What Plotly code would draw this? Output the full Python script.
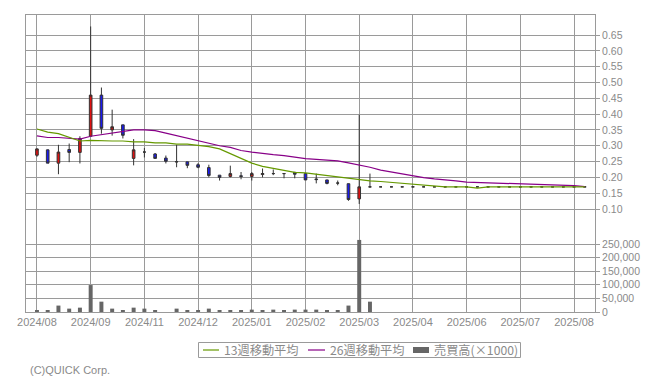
import plotly.graph_objects as go

# ---- data (weekly) ----
weeks = list(range(52))
tick_pos = [0, 5, 10, 15, 20, 25, 30, 35, 40, 45, 50]
tick_labels = ["2024/08", "2024/09", "2024/11", "2024/12", "2025/01", "2025/02",
               "2025/03", "2025/04", "2025/06", "2025/07", "2025/08"]

open_ = [0.270, 0.287, 0.245, 0.288, 0.279, 0.330, 0.460, 0.350, 0.366, 0.260,
         0.280, 0.274, 0.261, 0.250, 0.249, 0.240, 0.231, 0.207, 0.203, 0.205,
         0.203, 0.209, 0.212, 0.212, 0.216, 0.212, 0.195, 0.192, 0.182, 0.180,
         0.132, 0.170] + [0.170] * 20
high = [0.292, 0.288, 0.303, 0.307, 0.330, 0.677, 0.484, 0.414, 0.366, 0.321,
        0.293, 0.277, 0.269, 0.303, 0.249, 0.245, 0.240, 0.207, 0.237, 0.217,
        0.217, 0.228, 0.225, 0.212, 0.216, 0.212, 0.212, 0.192, 0.190, 0.180,
        0.398, 0.212] + [0.170] * 20
low = [0.265, 0.245, 0.210, 0.248, 0.244, 0.330, 0.338, 0.332, 0.323, 0.238,
       0.263, 0.260, 0.244, 0.232, 0.229, 0.229, 0.200, 0.190, 0.200, 0.194,
       0.190, 0.200, 0.207, 0.197, 0.197, 0.192, 0.181, 0.178, 0.175, 0.126,
       0.116, 0.168] + [0.170] * 20
close = [0.290, 0.245, 0.280, 0.279, 0.323, 0.460, 0.355, 0.360, 0.333, 0.287,
         0.280, 0.260, 0.251, 0.249, 0.238, 0.232, 0.206, 0.200, 0.212, 0.203,
         0.212, 0.212, 0.212, 0.212, 0.210, 0.192, 0.193, 0.181, 0.182, 0.130,
         0.170, 0.170] + [0.170] * 20

ma13 = [0.353, 0.343, 0.338, 0.326, 0.315, 0.317, 0.315, 0.315, 0.315, 0.312,
        0.312, 0.309, 0.309, 0.305, 0.305, 0.301, 0.297, 0.290, 0.275, 0.259,
        0.245, 0.235, 0.228, 0.222, 0.216, 0.214, 0.210, 0.205, 0.201, 0.196,
        0.192, 0.189, 0.187, 0.184, 0.181, 0.179, 0.175, 0.173, 0.170, 0.170,
        0.170, 0.166, 0.170, 0.170, 0.170, 0.170, 0.170, 0.170, 0.170, 0.170,
        0.170, 0.170]
ma26 = [0.331, 0.326, 0.326, 0.323, 0.321, 0.330, 0.335, 0.342, 0.347, 0.350,
        0.350, 0.348, 0.340, 0.332, 0.323, 0.317, 0.309, 0.300, 0.295, 0.285,
        0.280, 0.275, 0.272, 0.269, 0.264, 0.259, 0.257, 0.255, 0.252, 0.246,
        0.240, 0.232, 0.223, 0.217, 0.210, 0.204, 0.199, 0.195, 0.193, 0.189,
        0.185, 0.184, 0.182, 0.182, 0.179, 0.179, 0.177, 0.177, 0.177, 0.174,
        0.174, 0.171]

volume = [5000, 5000, 23600, 12400, 16000, 99000, 38000, 12400, 5000, 16000,
          12400, 5000, None, 12400, 5000, 5000, 12400, 5000, 5000, 5000,
          8700, 5000, 8700, 5000, 8700, 8700, 8700, 5000, 5000, 23600,
          265000, 38000] + [None] * 20

price_ticks = [0.10, 0.15, 0.20, 0.25, 0.30, 0.35, 0.40, 0.45, 0.50, 0.55, 0.60, 0.65]
volume_ticks = [0, 50000, 100000, 150000, 200000, 250000]

# ---- geometry ----
W, H = 655, 380
L, R, T, B = 26, 595, 15, 312
PW, PH = R - L, B - T


def px(xp):
    return (xp - L) / PW


def py(yp):
    return (B - yp) / PH


GRID = "#9a9a9a"
TXT = "#8a8a8a"
GREEN = "#669900"
PURPLE = "#880088"

fig = go.Figure()

fig.add_trace(go.Bar(
    x=weeks, y=volume, yaxis="y2", width=0.37,
    marker=dict(color="#666666", line=dict(width=0)),
    name="売買高(×1000)", showlegend=False,
))

fig.add_trace(go.Candlestick(
    x=weeks, open=open_, high=high, low=low, close=close,
    increasing=dict(fillcolor="#e01010", line=dict(color="#333333", width=1)),
    decreasing=dict(fillcolor="#1a1aee", line=dict(color="#333333", width=1)),
    whiskerwidth=0, showlegend=False,
))

fig.add_trace(go.Scatter(x=weeks, y=ma26, mode="lines",
                         line=dict(color=PURPLE, width=1.2),
                         name="26週移動平均", showlegend=False))
fig.add_trace(go.Scatter(x=weeks, y=ma13, mode="lines",
                         line=dict(color=GREEN, width=1.2),
                         name="13週移動平均", showlegend=False))

axis_font = dict(family="Liberation Sans", size=11, color=TXT)
yfont = dict(family="Liberation Sans", size=10.5, color=TXT)

fig.update_layout(
    width=W, height=H,
    margin=dict(l=L, r=W - R, t=T, b=H - B, pad=0),
    paper_bgcolor="white", plot_bgcolor="white",
    boxgap=0.65, boxgroupgap=0.3,
    xaxis=dict(
        range=[-1.02, 51.95], tickmode="array", tickvals=tick_pos, ticktext=tick_labels,
        showgrid=True, gridcolor=GRID, gridwidth=1, zeroline=False,
        showline=True, linecolor=GRID, linewidth=1, mirror=True,
        ticks="", tickfont=axis_font, rangeslider=dict(visible=False),
    ),
    yaxis=dict(
        side="right", range=[-0.2255, 0.7132], tickmode="array", tickvals=price_ticks,
        tickformat=".2f", showgrid=True, gridcolor=GRID, gridwidth=1, zeroline=False,
        showline=True, linecolor=GRID, linewidth=1, mirror=True,
        ticks="outside", ticklen=4, tickcolor=GRID, tickfont=yfont,
    ),
    yaxis2=dict(
        overlaying="y", side="right", range=[0, 1091900], tickmode="array",
        tickvals=volume_ticks, tickformat=",d", showgrid=True, gridcolor=GRID,
        gridwidth=1, zeroline=False, showline=False,
        ticks="outside", ticklen=4, tickcolor=GRID, tickfont=yfont,
    ),
    showlegend=False,
)

# ---- manual legend ----
shapes = [
    dict(type="rect", xref="paper", yref="paper",
         x0=px(198.5), x1=px(520.5), y0=py(357.5), y1=py(342.5),
         line=dict(color=GRID, width=1), fillcolor="white"),
    dict(type="line", xref="paper", yref="paper",
         x0=px(203), x1=px(219), y0=py(350), y1=py(350),
         line=dict(color=GREEN, width=1.2)),
    dict(type="line", xref="paper", yref="paper",
         x0=px(308), x1=px(325), y0=py(350), y1=py(350),
         line=dict(color=PURPLE, width=1.2)),
    dict(type="rect", xref="paper", yref="paper",
         x0=px(413), x1=px(429), y0=py(353), y1=py(347),
         line=dict(width=0), fillcolor="#666666"),
]
leg_font = dict(family="Noto Sans CJK JP", size=12.2, color=TXT)
annotations = [
    dict(text="13週移動平均", x=px(222), y=py(350), xref="paper", yref="paper",
         xanchor="left", yanchor="middle", showarrow=False, font=leg_font),
    dict(text="26週移動平均", x=px(328), y=py(350), xref="paper", yref="paper",
         xanchor="left", yanchor="middle", showarrow=False, font=leg_font),
    dict(text="売買高(×1000)", x=px(432), y=py(350), xref="paper", yref="paper",
         xanchor="left", yanchor="middle", showarrow=False, font=leg_font),
    dict(text="(C)QUICK Corp.", x=px(28), y=py(370), xref="paper", yref="paper",
         xanchor="left", yanchor="middle", showarrow=False,
         font=dict(family="Liberation Sans", size=11, color=TXT)),
]
fig.update_layout(shapes=shapes, annotations=annotations)

fig.write_html("out.html", config={"displayModeBar": False},
               post_script="document.body.style.margin='0';")
